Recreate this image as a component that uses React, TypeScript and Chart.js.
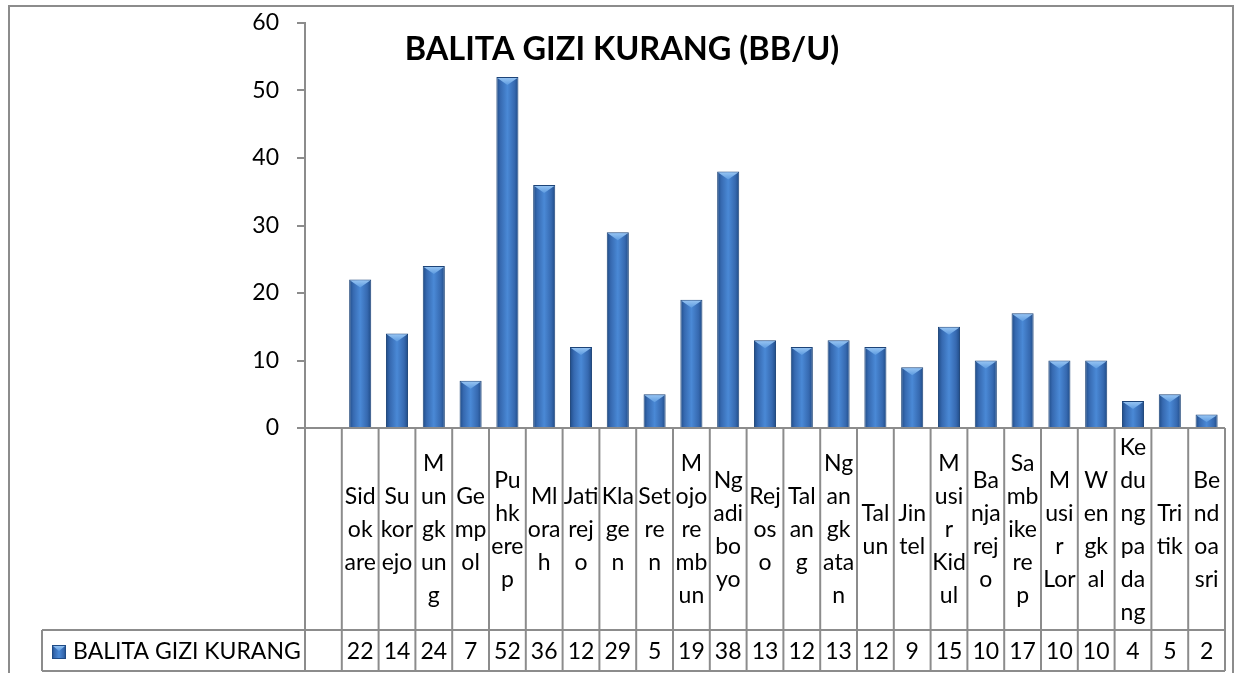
import { useEffect, useRef } from "react";
import { Chart, registerables } from "chart.js";

Chart.register(...registerables);

// ---------- data ----------
const chartTitle = "BALITA GIZI KURANG (BB/U)";
const seriesName = "BALITA GIZI KURANG";

// first category is the empty column next to the axis
const categories = [
  "",
  "Sidokare",
  "Sukorejo",
  "Mungkung",
  "Gempol",
  "Puhkerep",
  "Mlorah",
  "Jatirejo",
  "Klagen",
  "Setren",
  "Mojorembun",
  "Ngadiboyo",
  "Rejoso",
  "Talang",
  "Ngangkatan",
  "Talun",
  "Jintel",
  "Musir Kidul",
  "Banjarejo",
  "Sambikerep",
  "Musir Lor",
  "Wengkal",
  "Kedungpadang",
  "Tritik",
  "Bendoasri",
];

// how the category names wrap inside the narrow data-table cells
const categoryLines: string[][] = [
  [],
  ["Sid", "ok", "are"],
  ["Su", "kor", "ejo"],
  ["M", "un", "gk", "un", "g"],
  ["Ge", "mp", "ol"],
  ["Pu", "hk", "ere", "p"],
  ["Ml", "ora", "h"],
  ["Jati", "rej", "o"],
  ["Kla", "ge", "n"],
  ["Set", "re", "n"],
  ["M", "ojo", "re", "mb", "un"],
  ["Ng", "adi", "bo", "yo"],
  ["Rej", "os", "o"],
  ["Tal", "an", "g"],
  ["Ng", "an", "gk", "ata", "n"],
  ["Tal", "un"],
  ["Jin", "tel"],
  ["M", "usi", "r", "Kid", "ul"],
  ["Ba", "nja", "rej", "o"],
  ["Sa", "mb", "ike", "re", "p"],
  ["M", "usi", "r", "Lor"],
  ["W", "en", "gk", "al"],
  ["Ke", "du", "ng", "pa", "da", "ng"],
  ["Tri", "tik"],
  ["Be", "nd", "oa", "sri"],
];

const values: (number | null)[] = [
  null, 22, 14, 24, 7, 52, 36, 12, 29, 5, 19, 38, 13, 12, 13, 12, 9, 15, 10, 17, 10, 10, 4, 5, 2,
];

const yMin = 0;
const yMax = 60;
const yStep = 10;

// ---------- styling ----------
const FONT = "Lato, 'Open Sans', 'DejaVu Sans', sans-serif";
const GRAY = "#8c8c8c";
const W = 1238;
const H = 673;

function barGradient(ctx: CanvasRenderingContext2D, x0: number, x1: number) {
  const g = ctx.createLinearGradient(x0, 0, x1, 0);
  g.addColorStop(0, "#1f4b86");
  g.addColorStop(0.18, "#3669b0");
  g.addColorStop(0.5, "#4a89d6");
  g.addColorStop(0.82, "#3669b0");
  g.addColorStop(1, "#1f4b86");
  return g;
}

function drawBevel(ctx: CanvasRenderingContext2D, left: number, right: number, top: number, depth: number) {
  const cx = (left + right) / 2;
  const g = ctx.createLinearGradient(0, top, 0, top + depth);
  g.addColorStop(0, "#9cc8f4");
  g.addColorStop(1, "#5d9be0");
  ctx.fillStyle = g;
  ctx.beginPath();
  ctx.moveTo(left + 1, top + 1);
  ctx.lineTo(right - 1, top + 1);
  ctx.lineTo(cx, top + depth);
  ctx.closePath();
  ctx.fill();
}

const excelPlugin = {
  id: "excelLook",
  beforeDraw(chart: any) {
    const { ctx } = chart;
    ctx.save();
    ctx.fillStyle = "#ffffff";
    ctx.fillRect(0, 0, W, H);
    ctx.strokeStyle = GRAY;
    ctx.lineWidth = 2;
    ctx.strokeRect(9, 6, 1224, 700);
    ctx.restore();
  },
  afterDatasetsDraw(chart: any) {
    const { ctx } = chart;
    const meta = chart.getDatasetMeta(0);
    ctx.save();
    meta.data.forEach((bar: any, i: number) => {
      if (values[i] == null) return;
      const half = bar.width / 2;
      const h = bar.base - bar.y;
      drawBevel(ctx, bar.x - half, bar.x + half, bar.y, Math.min(8, h * 0.6));
    });
    ctx.restore();
  },
  afterDraw(chart: any) {
    const { ctx, chartArea } = chart;
    const xs = chart.scales.x;
    const n = categories.length;
    const cw = (chartArea.right - chartArea.left) / n;
    const top = chartArea.bottom;
    const rowSplit = 630;
    const rowBottom = 671;
    const legendLeft = 42;

    ctx.save();
    ctx.strokeStyle = GRAY;
    ctx.lineWidth = 2;
    const line = (x0: number, y0: number, x1: number, y1: number) => {
      ctx.beginPath();
      ctx.moveTo(x0, y0);
      ctx.lineTo(x1, y1);
      ctx.stroke();
    };
    // category axis line
    line(chartArea.left, top, chartArea.right, top);
    // table grid
    for (let i = 0; i <= n; i++) {
      const x = chartArea.left + i * cw;
      line(x, top, x, rowBottom);
    }
    line(legendLeft, rowSplit, chartArea.right, rowSplit);
    line(legendLeft, rowBottom, chartArea.right, rowBottom);
    line(legendLeft, rowSplit, legendLeft, rowBottom);

    // category labels
    ctx.fillStyle = "#000000";
    ctx.font = `23px ${FONT}`;
    ctx.textAlign = "center";
    ctx.textBaseline = "middle";
    const lh = 33;
    const midY = (top + rowSplit) / 2 + 1;
    categoryLines.forEach((lines, i) => {
      const cx = xs.getPixelForValue(i);
      const start = midY - ((lines.length - 1) * lh) / 2;
      lines.forEach((t, j) => ctx.fillText(t, cx, start + j * lh));
    });

    // values row
    const valY = (rowSplit + rowBottom) / 2 + 1;
    values.forEach((v, i) => {
      if (v == null) return;
      ctx.fillText(String(v), xs.getPixelForValue(i), valY);
    });

    // legend key + series name
    const kx = 52, ky = 645, ks = 14;
    ctx.fillStyle = barGradient(ctx, kx, kx + ks);
    ctx.fillRect(kx, ky, ks, ks);
    ctx.strokeStyle = "#1f4b86";
    ctx.lineWidth = 1;
    ctx.strokeRect(kx + 0.5, ky + 0.5, ks - 1, ks - 1);
    drawBevel(ctx, kx, kx + ks, ky, 6);
    ctx.fillStyle = "#000000";
    ctx.textAlign = "left";
    ctx.font = `23px ${FONT}`;
    ctx.fillText(seriesName, 73, valY);

    // title
    ctx.font = `bold 32.5px ${FONT}`;
    ctx.textAlign = "center";
    ctx.fillText(chartTitle, 622, 50);
    ctx.restore();
  },
};

export default function App() {
  const ref = useRef<HTMLCanvasElement | null>(null);

  useEffect(() => {
    if (!ref.current) return;
    const chart = new Chart(ref.current, {
      type: "bar",
      data: {
        labels: categories,
        datasets: [
          {
            label: seriesName,
            data: values,
            backgroundColor: (c: any) => {
              const ch = c.chart;
              const area = ch.chartArea;
              const xs = ch.scales?.x;
              if (!area || !xs) return "#3a74c0";
              const bw = ((area.right - area.left) / categories.length) * 0.6;
              const x = xs.getPixelForValue(c.dataIndex);
              return barGradient(ch.ctx, x - bw / 2, x + bw / 2);
            },
            borderColor: "#1d4478",
            borderWidth: 1,
            categoryPercentage: 1,
            barPercentage: 0.6,
          },
        ],
      },
      options: {
        responsive: false,
        animation: false,
        devicePixelRatio: 1,
        layout: { padding: { left: 0, right: 13, top: 23, bottom: 245 } },
        plugins: {
          legend: { display: false },
          title: { display: false },
          tooltip: { enabled: false },
        },
        scales: {
          x: { display: false, offset: true },
          y: {
            min: yMin,
            max: yMax,
            afterFit: (scale: any) => {
              scale.width = 305;
              scale.paddingTop = 0;
              scale.paddingBottom = 0;
            },
            ticks: {
              stepSize: yStep,
              color: "#000000",
              padding: 18,
              font: { family: FONT, size: 23 },
            },
            grid: {
              drawOnChartArea: false,
              drawTicks: true,
              tickLength: 8,
              color: GRAY,
              lineWidth: 2,
            },
            border: { color: GRAY, width: 2 },
          },
        },
      },
      plugins: [excelPlugin],
    });
    return () => chart.destroy();
  }, []);

  return (
    <div style={{ position: "fixed", left: 0, top: 0, width: W, height: H, background: "#fff" }}>
      <canvas ref={ref} width={W} height={H} style={{ display: "block", width: W, height: H }} />
    </div>
  );
}
